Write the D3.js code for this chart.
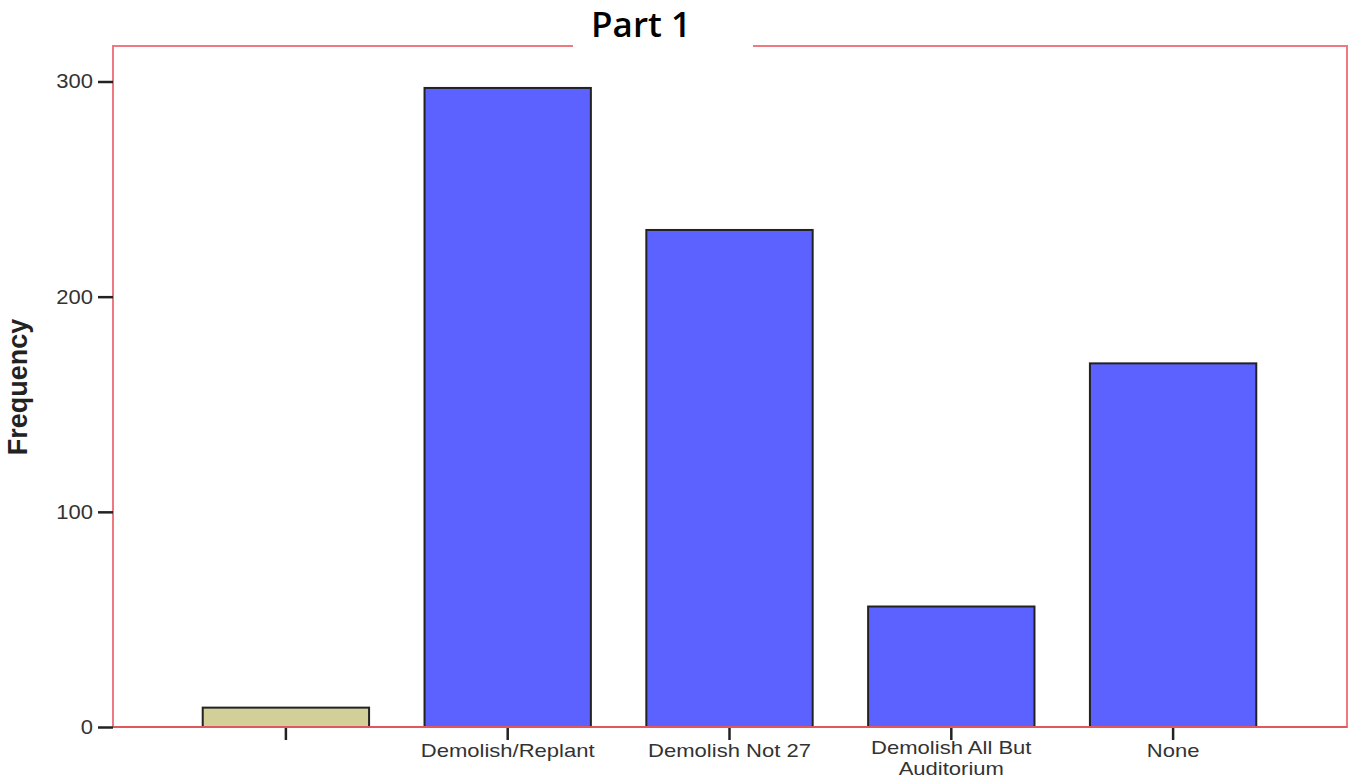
<!DOCTYPE html>
<html><head><meta charset="utf-8">
<script src="https://cdn.jsdelivr.net/npm/d3@7"></script>
<style>body{margin:0;background:#fff;} svg{display:block;}</style>
</head><body>
<script>
const categories = ["", "Demolish/Replant", "Demolish Not 27", "Demolish All But Auditorium", "None"];
const frequencies = [9, 297, 231, 56, 169];
const barColors = ["#d3cf98", "#5c62ff", "#5c62ff", "#5c62ff", "#5c62ff"];
const yTicks = [0, 100, 200, 300];

const W = 1350, H = 780;
const frame = {l: 113, t: 46, r: 1347, b: 727};
const FONT = "Liberation Sans, Arial, sans-serif";
const SX = 1.1; // horizontal stretch of the reference text
const SXL = 1.16;
const svg = d3.select("body").append("svg").attr("width", W).attr("height", H);

const x = d3.scaleBand().domain(categories).range([175, 1284]).paddingInner(0.25).paddingOuter(0.125);
const y = d3.scaleLinear().domain([0, 300]).range([727, 81.5]);

// frame
svg.append("rect").attr("x", frame.l).attr("y", frame.t).attr("width", frame.r - frame.l).attr("height", frame.b - frame.t)
  .attr("fill", "none").attr("stroke", "#f07880").attr("stroke-width", 2);

// bars
svg.selectAll("rect.bar").data(categories).enter().append("rect").attr("class", "bar")
  .attr("x", d => x(d)).attr("width", x.bandwidth())
  .attr("y", (d, i) => y(frequencies[i])).attr("height", (d, i) => y(0) - y(frequencies[i]))
  .attr("fill", (d, i) => barColors[i]).attr("stroke", "#222").attr("stroke-width", 2);

// baseline redraw
svg.append("line").attr("x1", frame.l).attr("x2", frame.r).attr("y1", y(0)).attr("y2", y(0)).attr("stroke", "#e0585f").attr("stroke-width", 2);

// y axis
const yAxis = d3.axisLeft(y).tickValues(yTicks).tickSize(15).tickPadding(5).tickFormat(d3.format("d"));
const gy = svg.append("g").attr("transform", `translate(${frame.l},0)`).call(yAxis);
gy.select(".domain").remove();
gy.selectAll(".tick line").attr("stroke", "#222").attr("stroke-width", 2.5);
gy.selectAll(".tick text").attr("font-family", FONT).attr("font-size", 20).attr("fill", "#333")
  .attr("x", -20 / SX).attr("transform", `scale(${SX},1)`);

// x axis
const xAxis = d3.axisBottom(x).tickSize(12).tickFormat("");
const gx = svg.append("g").attr("transform", `translate(0,${y(0) + 1})`).call(xAxis);
gx.select(".domain").remove();
gx.selectAll(".tick line").attr("stroke", "#222").attr("stroke-width", 2.5);
gx.selectAll(".tick").each(function(d) {
  const g = d3.select(this);
  let lines = [d];
  if (d === "Demolish All But Auditorium") lines = ["Demolish All But", "Auditorium"];
  const t = g.append("text").attr("x", 0).attr("y", lines.length > 1 ? 26 : 29).attr("text-anchor", "middle")
    .attr("transform", `scale(${SXL},1)`)
    .attr("font-family", FONT).attr("font-size", 19).attr("fill", "#333");
  lines.forEach((s, k) => {
    t.append("tspan").attr("x", 0).attr("dy", k === 0 ? 0 : 21.3).text(s);
  });
});

// y label
svg.append("text").attr("transform", "translate(27,387) rotate(-90)").attr("text-anchor", "middle")
  .attr("font-family", FONT).attr("font-weight", "bold").attr("font-size", 27).attr("fill", "#222")
  .text("Frequency");

// title with white background gap
svg.append("rect").attr("x", 573).attr("y", 30).attr("width", 180).attr("height", 30).attr("fill", "#fff");
svg.append("text").attr("x", 641).attr("y", 37).attr("text-anchor", "middle")
  .attr("font-family", "Open Sans, Noto Sans, sans-serif").attr("font-weight", 600).attr("font-size", 35).attr("fill", "#000")
  .text("Part 1");
</script>
</body></html>
